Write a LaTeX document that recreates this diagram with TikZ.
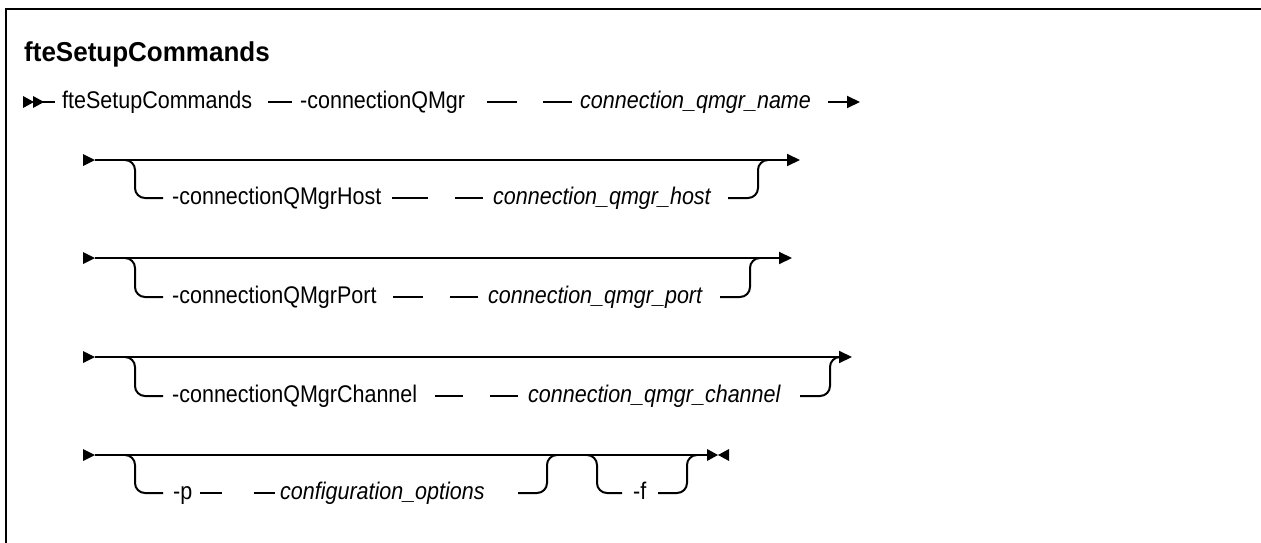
\documentclass[tikz,border=0pt]{standalone}
\usepackage{fontspec}
\setmainfont{Liberation Sans}
\usetikzlibrary{arrows.meta}
\newcommand{\tall}[1]{\scalebox{1}[1.12]{#1}}
\begin{document}
\begin{tikzpicture}[x=1pt,y=-1pt,
  rail/.style={line width=2pt},
  railbend/.style={line width=2pt, rounded corners=10pt},
  kw/.style={anchor=base west, inner sep=0pt, yshift=-6.5pt, font=\fontsize{21.5}{24}\selectfont},
  var/.style={anchor=base west, inner sep=0pt, yshift=-6.5pt, font=\fontsize{21.5}{24}\selectfont\itshape},
  tip/.style={-{Triangle[length=13pt,width=12pt]}},
  head/.style={fill=black}
  ]
\useasboundingbox (0,0) rectangle (1261,543);
% frame
\coordinate (fbl) at (6,545);
\coordinate (ftl) at (6,9);
\coordinate (ftr) at (1263,9);
\draw[line width=2.5pt] (fbl) -- (ftl) -- (ftr);
% title
\node[anchor=base west, inner sep=0pt, font=\fontsize{26}{30}\selectfont\bfseries] (title) at (24,62) {\scalebox{1}[1.05]{fteSetupCommands}};

% ---------- row 1 ----------
\fill[head] (23,96) -- (34,102) -- (23,108) -- cycle;
\fill[head] (33,96) -- (44,102) -- (33,108) -- cycle;
\coordinate (r1s) at (34,102);
\coordinate (r1a) at (55,102);
\node[kw] (cmd) at (62,102) {\tall{fteSetupCommands}};
\coordinate (r1b) at (268,102); \coordinate (r1c) at (292,102);
\node[kw] (cqm) at (300,102) {\tall{-connectionQMgr}};
\coordinate (r1d) at (487,102); \coordinate (r1e) at (517,102);
\coordinate (r1f) at (543,102); \coordinate (r1g) at (572,102);
\node[var] (cqmv) at (580,102) {\tall{connection\_qmgr\_name}};
\coordinate (r1h) at (828,102); \coordinate (r1i) at (860,102);
\draw[rail] (r1s) -- (r1a);
\draw[rail] (r1b) -- (r1c);
\draw[rail] (r1d) -- (r1e);
\draw[rail] (r1f) -- (r1g);
\draw[rail,tip] (r1h) -- (r1i);

% ---------- row 2 ----------
\fill[head] (83,154) -- (95,160) -- (83,166) -- cycle;
\coordinate (r2s) at (95,160); \coordinate (r2e) at (800,160);
\draw[rail,tip] (r2s) -- (r2e);
\coordinate (r2l) at (125,160); \coordinate (r2lc) at (135,160); \coordinate (r2ld) at (135,198); \coordinate (r2lt) at (163,198);
\draw[railbend] (r2l) -- (r2lc) -- (r2ld) -- (r2lt);
\node[kw] (host) at (172,198) {\tall{-connectionQMgrHost}};
\coordinate (r2a) at (392,198); \coordinate (r2b) at (428,198);
\coordinate (r2c) at (455,198); \coordinate (r2d) at (483,198);
\draw[rail] (r2a) -- (r2b);
\draw[rail] (r2c) -- (r2d);
\node[var] (hostv) at (493,198) {\tall{connection\_qmgr\_host}};
\coordinate (r2r) at (728,198); \coordinate (r2rc) at (758,198); \coordinate (r2ru) at (758,160); \coordinate (r2rt) at (768,160);
\draw[railbend] (r2r) -- (r2rc) -- (r2ru) -- (r2rt);

% ---------- row 3 ----------
\fill[head] (83,252) -- (95,258) -- (83,264) -- cycle;
\coordinate (r3s) at (95,258); \coordinate (r3e) at (792,258);
\draw[rail,tip] (r3s) -- (r3e);
\coordinate (r3l) at (125,258); \coordinate (r3lc) at (135,258); \coordinate (r3ld) at (135,297); \coordinate (r3lt) at (163,297);
\draw[railbend] (r3l) -- (r3lc) -- (r3ld) -- (r3lt);
\node[kw] (port) at (172,297) {\tall{-connectionQMgrPort}};
\coordinate (r3a) at (393,297); \coordinate (r3b) at (423,297);
\coordinate (r3c) at (450,297); \coordinate (r3d) at (478,297);
\draw[rail] (r3a) -- (r3b);
\draw[rail] (r3c) -- (r3d);
\node[var] (portv) at (488,297) {\tall{connection\_qmgr\_port}};
\coordinate (r3r) at (720,297); \coordinate (r3rc) at (750,297); \coordinate (r3ru) at (750,258); \coordinate (r3rt) at (760,258);
\draw[railbend] (r3r) -- (r3rc) -- (r3ru) -- (r3rt);

% ---------- row 4 ----------
\fill[head] (83,351) -- (95,357) -- (83,363) -- cycle;
\coordinate (r4s) at (95,357); \coordinate (r4e) at (852,357);
\draw[rail,tip] (r4s) -- (r4e);
\coordinate (r4l) at (125,357); \coordinate (r4lc) at (135,357); \coordinate (r4ld) at (135,396); \coordinate (r4lt) at (163,396);
\draw[railbend] (r4l) -- (r4lc) -- (r4ld) -- (r4lt);
\node[kw] (chan) at (172,396) {\tall{-connectionQMgrChannel}};
\coordinate (r4a) at (435,396); \coordinate (r4b) at (463,396);
\coordinate (r4c) at (490,396); \coordinate (r4d) at (518,396);
\draw[rail] (r4a) -- (r4b);
\draw[rail] (r4c) -- (r4d);
\node[var] (chanv) at (528,396) {\tall{connection\_qmgr\_channel}};
\coordinate (r4r) at (800,396); \coordinate (r4rc) at (830,396); \coordinate (r4ru) at (830,357); \coordinate (r4rt) at (840,357);
\draw[railbend] (r4r) -- (r4rc) -- (r4ru) -- (r4rt);

% ---------- row 5 ----------
\fill[head] (83,449) -- (95,455) -- (83,461) -- cycle;
\coordinate (r5s) at (95,455); \coordinate (r5e) at (708,455);
\draw[rail] (r5s) -- (r5e);
\fill[head] (707,449) -- (718,455) -- (707,461) -- cycle;
\fill[head] (729,449) -- (718,455) -- (729,461) -- cycle;
\coordinate (r5l) at (125,455); \coordinate (r5lc) at (135,455); \coordinate (r5ld) at (135,493); \coordinate (r5lt) at (163,493);
\draw[railbend] (r5l) -- (r5lc) -- (r5ld) -- (r5lt);
\node[kw] (popt) at (173,493) {\tall{-p}};
\coordinate (r5a) at (200,493); \coordinate (r5b) at (222,493);
\coordinate (r5c) at (254,493); \coordinate (r5d) at (275,493);
\draw[rail] (r5a) -- (r5b);
\draw[rail] (r5c) -- (r5d);
\node[var] (pv) at (280,493) {\tall{configuration\_options}};
\coordinate (r5r) at (518,493); \coordinate (r5rc) at (547,493); \coordinate (r5ru) at (547,455); \coordinate (r5rt) at (557,455);
\draw[railbend] (r5r) -- (r5rc) -- (r5ru) -- (r5rt);
\coordinate (r6l) at (587,455); \coordinate (r6lc) at (597,455); \coordinate (r6ld) at (597,493); \coordinate (r6lt) at (622,493);
\draw[railbend] (r6l) -- (r6lc) -- (r6ld) -- (r6lt);
\node[kw] (fopt) at (633,493) {\tall{-f}};
\coordinate (r6r) at (658,493); \coordinate (r6rc) at (687,493); \coordinate (r6ru) at (687,455); \coordinate (r6rt) at (697,455);
\draw[railbend] (r6r) -- (r6rc) -- (r6ru) -- (r6rt);
\end{tikzpicture}
\end{document}
